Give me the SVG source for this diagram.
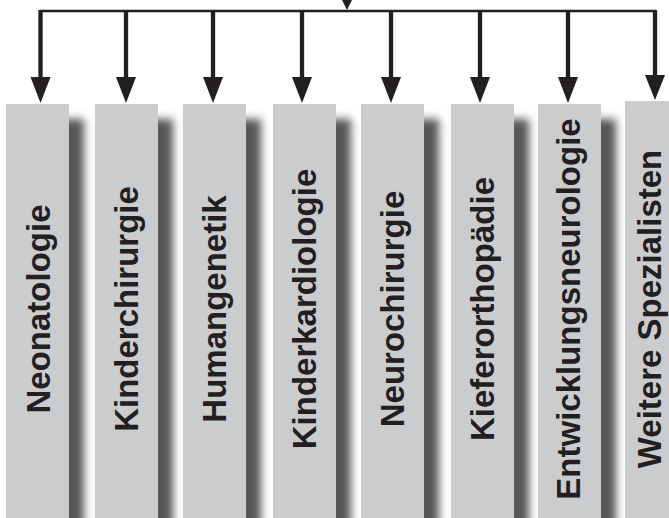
<svg xmlns="http://www.w3.org/2000/svg" width="669" height="518" viewBox="0 0 669 518">
  <defs>
    <filter id="blur" x="-50%" y="-20%" width="200%" height="140%">
      <feGaussianBlur stdDeviation="4"/>
    </filter>
    <style>
      .box { fill: #cbcccd; }
      .shadow { fill: #555658; filter: url(#blur); }
      .lbl { font-family: "Liberation Sans", Arial, sans-serif; font-weight: bold; font-size: 33px; fill: #231f20; text-anchor: middle; }
      .line { stroke: #231f20; fill: none; }
      .head { fill: #231f20; }
    </style>
  </defs>
  <rect width="669" height="518" fill="#ffffff"/>

  <g id="connectors">
    <polygon class="head" points="342,0 352,0 347,10"/>
    <line class="line" x1="40" y1="11" x2="656" y2="11" stroke-width="2.5"/>
    <g stroke-width="4.3">
      <line class="line" x1="40.5" y1="10" x2="40.5" y2="80"/>
      <line class="line" x1="126" y1="10" x2="126" y2="80"/>
      <line class="line" x1="213" y1="10" x2="213" y2="80"/>
      <line class="line" x1="302" y1="10" x2="302" y2="80"/>
      <line class="line" x1="391" y1="10" x2="391" y2="80"/>
      <line class="line" x1="480" y1="10" x2="480" y2="80"/>
      <line class="line" x1="568" y1="10" x2="568" y2="80"/>
      <line class="line" x1="655" y1="10" x2="655" y2="78"/>
    </g>
    <polygon class="head" points="30.5,77 50.5,77 40.5,103"/>
    <polygon class="head" points="116,77 136,77 126,103"/>
    <polygon class="head" points="203,77 223,77 213,103"/>
    <polygon class="head" points="292,77 312,77 302,103"/>
    <polygon class="head" points="381,77 401,77 391,103"/>
    <polygon class="head" points="470,77 490,77 480,103"/>
    <polygon class="head" points="558,77 578,77 568,103"/>
    <polygon class="head" points="645,75 665,75 655,100"/>
  </g>

  <g id="neonatologie">
    <rect class="shadow" x="21" y="119" width="63" height="420"/>
    <rect class="box" x="6" y="104" width="63" height="414"/>
    <text class="lbl" transform="translate(49.5,309) rotate(-90)">Neonatologie</text>
  </g>
  <g id="kinderchirurgie">
    <rect class="shadow" x="110" y="119" width="63" height="420"/>
    <rect class="box" x="95" y="104" width="63" height="414"/>
    <text class="lbl" transform="translate(138,309) rotate(-90)">Kinderchirurgie</text>
  </g>
  <g id="humangenetik">
    <rect class="shadow" x="198" y="119" width="63" height="420"/>
    <rect class="box" x="183" y="104" width="63" height="414"/>
    <text class="lbl" transform="translate(226,309) rotate(-90)">Humangenetik</text>
  </g>
  <g id="kinderkardiologie">
    <rect class="shadow" x="288" y="119" width="63" height="420"/>
    <rect class="box" x="273" y="104" width="63" height="414"/>
    <text class="lbl" transform="translate(316,309) rotate(-90)">Kinderkardiologie</text>
  </g>
  <g id="neurochirurgie">
    <rect class="shadow" x="376" y="119" width="63" height="420"/>
    <rect class="box" x="361" y="104" width="63" height="414"/>
    <text class="lbl" transform="translate(404,309) rotate(-90)">Neurochirurgie</text>
  </g>
  <g id="kieferorthopaedie">
    <rect class="shadow" x="466" y="119" width="63" height="420"/>
    <rect class="box" x="451" y="104" width="63" height="414"/>
    <text class="lbl" transform="translate(494,309) rotate(-90)">Kieferorthopädie</text>
  </g>
  <g id="entwicklungsneurologie">
    <rect class="shadow" x="553" y="119" width="63" height="420"/>
    <rect class="box" x="538" y="104" width="63" height="414"/>
    <text class="lbl" transform="translate(580,309) rotate(-90)">Entwicklungsneurologie</text>
  </g>
  <g id="weitere-spezialisten">
    <rect class="box" x="625" y="101" width="63" height="417"/>
    <text class="lbl" transform="translate(661,309) rotate(-90)">Weitere Spezialisten</text>
  </g>
</svg>
